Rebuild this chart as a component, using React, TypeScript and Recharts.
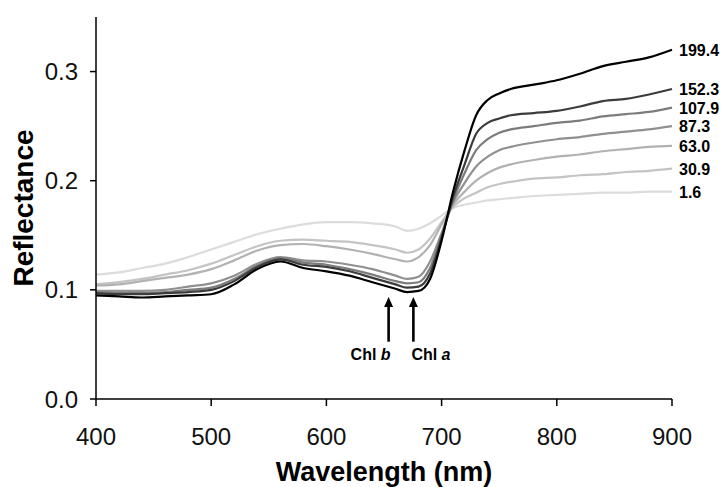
import React from 'react';
import { LineChart, Line, XAxis, YAxis, ReferenceLine } from 'recharts';

// wavelength grid (nm)
const wavelengths = [
  400, 420, 440, 460, 480, 500, 520, 540, 560, 580, 600, 620, 640, 660, 670, 680,
  690, 700, 710, 720, 730, 740, 750, 760, 780, 800, 820, 840, 860, 880, 900,
];

// reflectance per chlorophyll level
const r1994 = [
  0.095, 0.094, 0.093, 0.094, 0.095, 0.096, 0.105, 0.119, 0.126, 0.12, 0.117, 0.113, 0.107, 0.101, 0.098, 0.099,
  0.11, 0.145, 0.19, 0.228, 0.26, 0.274, 0.28, 0.284, 0.288, 0.292, 0.298, 0.305, 0.309, 0.313, 0.32,
];
const r1523 = [
  0.097, 0.096, 0.096, 0.097, 0.098, 0.1, 0.108, 0.121, 0.128, 0.123, 0.121, 0.117, 0.111, 0.105, 0.102, 0.103,
  0.115, 0.148, 0.185, 0.215, 0.243, 0.253, 0.257, 0.26, 0.262, 0.264, 0.268, 0.273, 0.275, 0.279, 0.284,
];
const r1079 = [
  0.098, 0.097, 0.097, 0.098, 0.1, 0.102, 0.11, 0.122, 0.129, 0.125, 0.123, 0.119, 0.114, 0.108, 0.106, 0.107,
  0.12, 0.15, 0.182, 0.207, 0.228, 0.238, 0.244, 0.247, 0.25, 0.253, 0.255, 0.259, 0.261, 0.263, 0.267,
];
const r873 = [
  0.099, 0.099, 0.099, 0.1, 0.103, 0.106, 0.113, 0.124, 0.13, 0.127, 0.126, 0.123, 0.119, 0.113, 0.11, 0.112,
  0.126, 0.152, 0.18, 0.198, 0.213, 0.222, 0.228, 0.231, 0.235, 0.238, 0.24, 0.243, 0.245, 0.247, 0.25,
];
const r630 = [
  0.104, 0.105, 0.108, 0.111, 0.114, 0.119, 0.127, 0.136, 0.141, 0.142, 0.14, 0.137, 0.133, 0.128, 0.126, 0.13,
  0.141, 0.16, 0.178, 0.19, 0.2, 0.207, 0.212, 0.215, 0.219, 0.222, 0.224, 0.227, 0.229, 0.231, 0.232,
];
const r309 = [
  0.105, 0.107, 0.11, 0.114, 0.118, 0.124, 0.132, 0.14, 0.145, 0.146, 0.145, 0.144, 0.141, 0.137, 0.134, 0.137,
  0.147, 0.162, 0.176, 0.184, 0.189, 0.194, 0.197, 0.199, 0.202, 0.203, 0.205, 0.206, 0.208, 0.209, 0.211,
];
const r16 = [
  0.114, 0.116, 0.12, 0.124, 0.13, 0.137, 0.144, 0.151, 0.156, 0.16, 0.162, 0.162, 0.161, 0.158, 0.154, 0.156,
  0.161, 0.168, 0.175, 0.178, 0.18, 0.182, 0.183, 0.184, 0.186, 0.187, 0.188, 0.189, 0.189, 0.19, 0.19,
];

const seriesNames = ['1.6', '30.9', '63.0', '87.3', '107.9', '152.3', '199.4'];
const seriesValues = [r16, r309, r630, r873, r1079, r1523, r1994];
const seriesColors = ['#dcdcdc', '#c4c4c4', '#b2b2b2', '#909090', '#7c7c7c', '#3c3c3c', '#000000'];

const xTicks = [400, 500, 600, 700, 800, 900];
const yTicks = [0, 0.1, 0.2, 0.3];

// absorption features marked with arrows
const arrowNames = ['b', 'a'];
const arrowWavelengths = [654, 675.5];

const data = wavelengths.map((wl, i) => {
  const row: Record<string, number> = { wl };
  seriesNames.forEach((name, s) => {
    row[name] = seriesValues[s][i];
  });
  return row;
});

const FONT = 'Arial, "Liberation Sans", Helvetica, sans-serif';

const XTick = ({ x, y, payload }: any) => (
  <text x={x} y={y + 37} textAnchor="middle" fontFamily={FONT} fontSize={24} fill="#111">
    {payload.value}
  </text>
);

const YTick = ({ x, y, payload }: any) => (
  <text x={x - 10} y={y + 8.5} textAnchor="end" fontFamily={FONT} fontSize={24} fill="#111">
    {Number(payload.value).toFixed(1)}
  </text>
);

const lastIndex = wavelengths.length - 1;

const arrowShape = (which: string) => (props: any) => {
  const { x1, y1, x2, y2 } = props;
  const x = x1;
  const bottom = Math.max(y1, y2);
  const tip = Math.min(y1, y2);
  const head = 10;
  return (
    <g>
      <line x1={x} y1={bottom} x2={x} y2={tip + head - 1} stroke="#000" strokeWidth={2.6} />
      <polygon points={`${x},${tip} ${x - 4.5},${tip + head} ${x + 4.5},${tip + head}`} fill="#000" />
      <text
        x={which === 'b' ? x + 2 : x - 2}
        y={bottom + 18}
        textAnchor={which === 'b' ? 'end' : 'start'}
        fontFamily={FONT}
        fontSize={16}
        fontWeight="bold"
        fill="#000"
      >
        Chl <tspan fontStyle="italic">{which}</tspan>
      </text>
    </g>
  );
};

export default function App() {
  return (
    <div style={{ position: 'absolute', left: 0, top: 0, width: 721, height: 487, background: '#fff' }}>
      <LineChart width={721} height={487} data={data} margin={{ top: 17, right: 49, bottom: 0, left: 0 }}>
        <XAxis
          dataKey="wl"
          type="number"
          domain={[400, 900]}
          ticks={xTicks}
          interval={0}
          height={88}
          tickSize={7}
          stroke="#000"
          strokeWidth={1.5}
          tick={<XTick />}
          label={({ viewBox }: any) => (
            <text
              x={viewBox.x + viewBox.width / 2}
              y={viewBox.y + 82}
              textAnchor="middle"
              fontFamily={FONT}
              fontSize={27}
              fontWeight="bold"
              fill="#000"
            >
              Wavelength (nm)
            </text>
          )}
        />
        <YAxis
          type="number"
          domain={[0, 0.35]}
          ticks={yTicks}
          interval={0}
          width={96}
          tickSize={6}
          stroke="#000"
          strokeWidth={1.5}
          allowDataOverflow
          tick={<YTick />}
          label={({ viewBox }: any) => {
            const cy = viewBox.y + viewBox.height / 2;
            return (
              <text
                x={33}
                y={cy}
                transform={`rotate(-90, 33, ${cy})`}
                textAnchor="middle"
                fontFamily={FONT}
                fontSize={28}
                fontWeight="bold"
                fill="#000"
              >
                Reflectance
              </text>
            );
          }}
        />
        {seriesNames.map((name, s) => (
          <Line
            key={name}
            type="monotone"
            dataKey={name}
            stroke={seriesColors[s]}
            strokeWidth={2.2}
            dot={false}
            isAnimationActive={false}
            label={(p: any) =>
              p.index === lastIndex ? (
                <text
                  key={`lbl-${name}`}
                  x={p.x + 7}
                  y={p.y + 6}
                  fontFamily={FONT}
                  fontSize={16}
                  fontWeight="bold"
                  fill="#000"
                >
                  {name}
                </text>
              ) : (
                <g key={`lbl-${name}-${p.index}`} />
              )
            }
          />
        ))}
        {arrowNames.map((which, i) => (
          <ReferenceLine
            key={which}
            segment={[
              { x: arrowWavelengths[i], y: 0.0525 },
              { x: arrowWavelengths[i], y: 0.0935 },
            ]}
            shape={arrowShape(which)}
          />
        ))}
      </LineChart>
    </div>
  );
}
